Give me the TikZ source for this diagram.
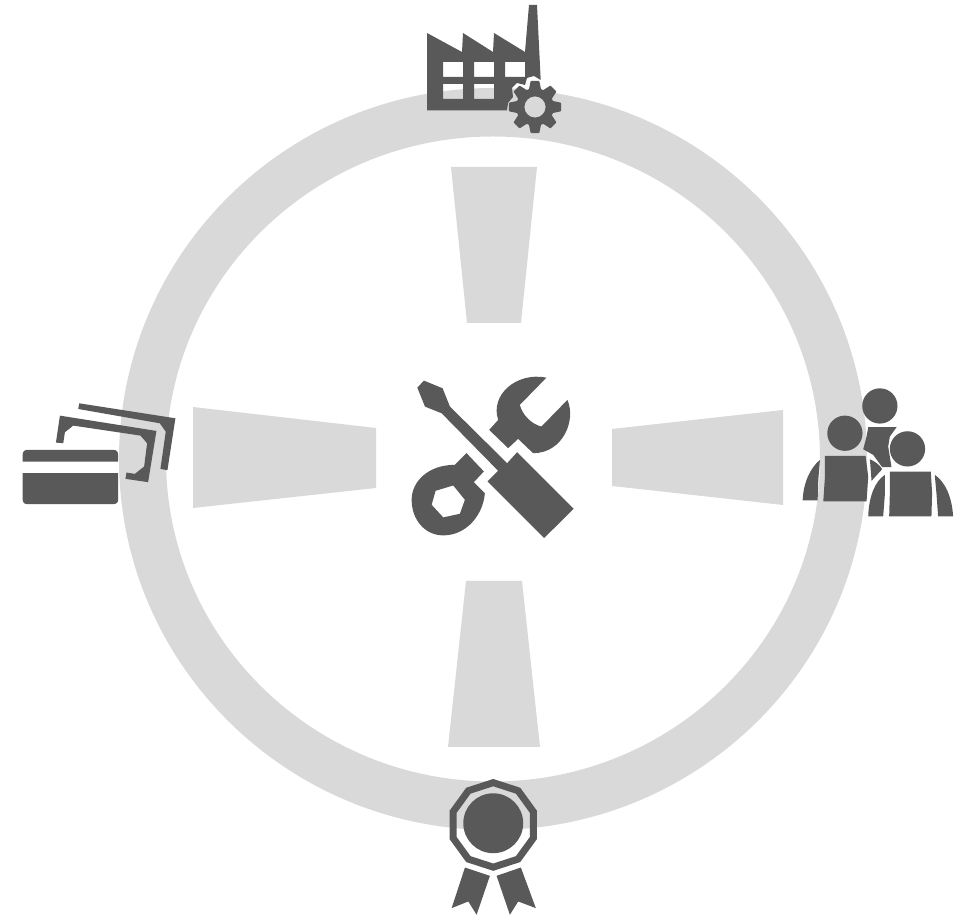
\documentclass[tikz,border=0pt]{standalone}
\definecolor{ringgray}{HTML}{D9D9D9}
\definecolor{icongray}{HTML}{595959}
\tikzset{
  pane/.style={fill=ringgray,draw=none},
  icon/.style={fill=icongray,draw=none,even odd rule},
  zm/.style 2 args={shift={(#1,#2)},x=0.0033333cm,y=-0.0033333cm}
}
\begin{document}
\begin{tikzpicture}[x=0.01cm,y=-0.01cm]
\useasboundingbox (0,0) rectangle (969,916);
% ring
\fill[pane,even odd rule] (493,459) ellipse[x radius=374,y radius=371] (493,459) ellipse[x radius=327,y radius=322.5];
% trapezoids
\fill[pane] (451,167) -- (537,167) -- (521,323) -- (467,323) -- cycle;
\fill[pane] (466,581) -- (522,581) -- (540,747) -- (448,747) -- cycle;
\fill[pane] (193,407) -- (376,428) -- (376,488) -- (193,508) -- cycle;
\fill[pane] (612,429) -- (783,410) -- (783,505) -- (612,486) -- cycle;
% factory
\fill[icon] (427,33) -- (462,52) -- (463,33) -- (493,52) -- (494,33) -- (525,52) -- (529,5) -- (537,5)
  -- (540.7,80) -- (534,76) -- (527,78) -- (525,85) -- (517,83) -- (512,88) -- (513,97) -- (508,103) -- (507,110.5)
  -- (427,110.5) -- cycle
  (443,62) rectangle (463,77) (474,62) rectangle (494,77) (505,62) rectangle (525,77)
  (443,84) rectangle (463,99) (474,84) rectangle (494,99);
% gear
\begin{scope}[shift={(535,107)}]
\fill[icon,draw=icongray,line width=0.5pt,line join=round]
  (-17:18) \foreach \a in {0,45,...,315} { -- (\a-17:18) -- (\a-8:25.5) -- (\a+8:25.5) -- (\a+17:18) } -- cycle
  (0,0) circle[radius=11.5];
\end{scope}
% tools
\begin{scope}[zm={400}{365}]
\fill[icon] (52,68) -- (72,47) -- (128,70) -- (150,125) -- (322,295) -- (352,262) -- (522,432) -- (433,520)
  -- (263,350) -- (295,318) -- (125,145) -- (75,125) -- cycle;
\fill[icon] (440,38) -- (360,120) .. controls (368,150) and (395,178) .. (425,185) -- (503,105)
  .. controls (530,165) and (490,265) .. (400,265) -- (355,222) -- (325,250) -- (268,195) -- (295,165)
  .. controls (270,90) and (350,20) .. (440,38) -- cycle;
\fill[icon] (200,265) -- (252,320) -- (222,352) -- (255,385)
  .. controls (250,450) and (200,512) .. (130,512)
  .. controls (75,512) and (35,465) .. (35,405)
  .. controls (35,350) and (85,300) .. (165,300) -- cycle
  (107,378) -- (160,362) -- (195,405) -- (180,447) -- (130,458) -- (95,420) -- cycle;
\end{scope}
% people
\begin{scope}[zm={795}{380}]
\fill[icon] (255,78) circle[radius=53];
\fill[icon] (220,142) -- (305,142) -- (285,170) -- (280,200) -- (290,262) -- (262,262) -- (235,225) -- (205,208) -- (215,170) -- cycle;
\fill[icon] (150,160) circle[radius=53];
\fill[icon] (90,228) -- (212,228) -- (220,290) -- (215,365) -- (85,365) -- (90,290) -- cycle;
\fill[icon] (75,240) .. controls (45,265) and (25,310) .. (23,362) -- (68,362) -- (70,300) -- cycle;
\fill[icon] (225,238) .. controls (240,245) and (255,255) .. (262,268) -- (230,303) -- cycle;
\fill[icon] (338,207) circle[radius=53];
\fill[icon] (285,275) -- (408,275) -- (412,340) -- (410,410) -- (283,410) -- (285,340) -- cycle;
\fill[icon] (270,285) .. controls (240,305) and (222,350) .. (220,410) -- (265,410) -- (270,345) -- cycle;
\fill[icon] (420,285) .. controls (450,305) and (472,350) .. (475,410) -- (430,410) -- (425,340) -- cycle;
\end{scope}
% card and notes
\begin{scope}[zm={10}{395}]
\fill[icon] (38,200) -- (38,180) .. controls (38,170) and (43,165) .. (53,165) -- (310,165) .. controls (320,165) and (325,170) .. (325,180) -- (325,200) -- cycle;
\fill[icon] (38,235) -- (325,235) -- (325,313) .. controls (325,323) and (320,328) .. (310,328) -- (53,328) .. controls (43,328) and (38,323) .. (38,313) -- cycle;
\fill[icon] (150,62) -- (440,108) -- (415,262) -- (347,252) -- (350,233) -- (375,237) -- (403,215) -- (412,145) -- (392,122) -- (190,92) -- (165,112) -- (160,145) -- (138,143) -- cycle;
\fill[icon] (208,25) -- (497,70) -- (473,226) -- (452,222) -- (468,110) -- (450,85) -- (205,42) -- cycle;
\end{scope}
% award
\begin{scope}[zm={435}{770}]
\fill[icon] (175,160) circle[radius=90];
\fill[icon] (90,293) -- (165,318) -- (125,435) -- (100,395) -- (50,415) -- cycle;
\fill[icon] (185,318) -- (258,293) -- (303,415) -- (250,395) -- (225,435) -- cycle;
\begin{scope}[shift={(175,165)}]
\fill[icon] (18:138) \foreach \a in {54,90,...,342} { -- (\a:138) } -- cycle
  (18:116) \foreach \a in {54,90,...,342} { -- (\a:116) } -- cycle;
\end{scope}
\end{scope}
\end{tikzpicture}
\end{document}
